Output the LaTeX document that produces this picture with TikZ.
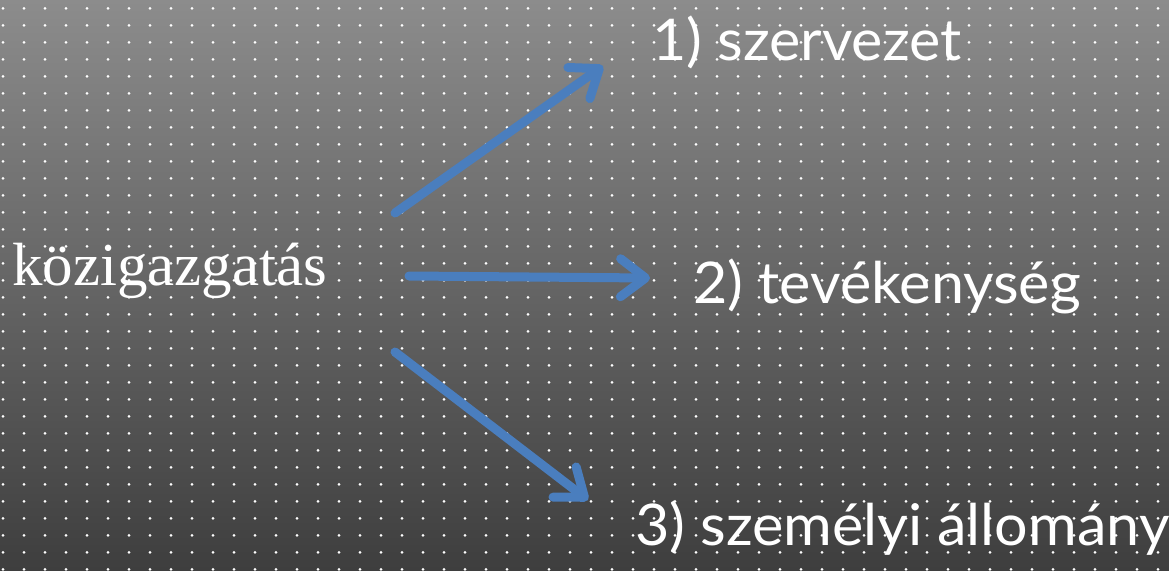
\documentclass[tikz,border=0pt]{standalone}
\usepackage{fontspec}
\setmainfont{Lato}
\newfontfamily\termserif{Liberation Serif}
\usetikzlibrary{positioning}
\usetikzlibrary{arrows.meta}
\definecolor{bgtop}{RGB}{140,140,140}
\definecolor{bgbottom}{RGB}{62,62,62}
\definecolor{arrowblue}{RGB}{74,126,190}
\tikzstyle{term} = [anchor=base west, inner sep=0pt, text=white, xscale=1.03, font=\fontsize{57.5}{60}\selectfont]
\tikzstyle{root} = [anchor=base west, inner sep=0pt, text=white, font=\termserif\fontsize{61}{64}\selectfont]
\tikzstyle{dot} = [fill=white]
\tikzstyle{link} = [draw=arrowblue, line width=9pt, line cap=round, -{Straight Barb[round, length=25pt, width=38pt]}]

\begin{document}
\begin{tikzpicture}[x=1pt,y=-1pt]
    % background
    \shade[top color=bgtop, bottom color=bgbottom] (0,0) rectangle (1169,570);
    \useasboundingbox (0,0) rectangle (1169,570);
    \foreach \i in {0,...,55}
        \foreach \j in {0,...,33}
            \fill[dot] (3+21*\i, 8.3+17*\j) circle (1.5pt);

    \node [root] (kozig) at (12,285) {közigazgatás};
    \node [term] (szerv) at (652,60) {1) szervezet};
    \node [term] (tev) at (693,303) {2) tevékenység};
    \node [term] (szem) at (635,545) {3) személyi állomány};

    \coordinate (k1) at (395,213);
    \coordinate (k2) at (409,276);
    \coordinate (k3) at (395,352);
    \coordinate (t1) at (603,66);
    \coordinate (t2) at (650,278);
    \coordinate (t3) at (588,500);

    \draw [link] (k1) -- (t1);
    \draw [link] (k2) -- (t2);
    \draw [link] (k3) -- (t3);
\end{tikzpicture}
\end{document}
